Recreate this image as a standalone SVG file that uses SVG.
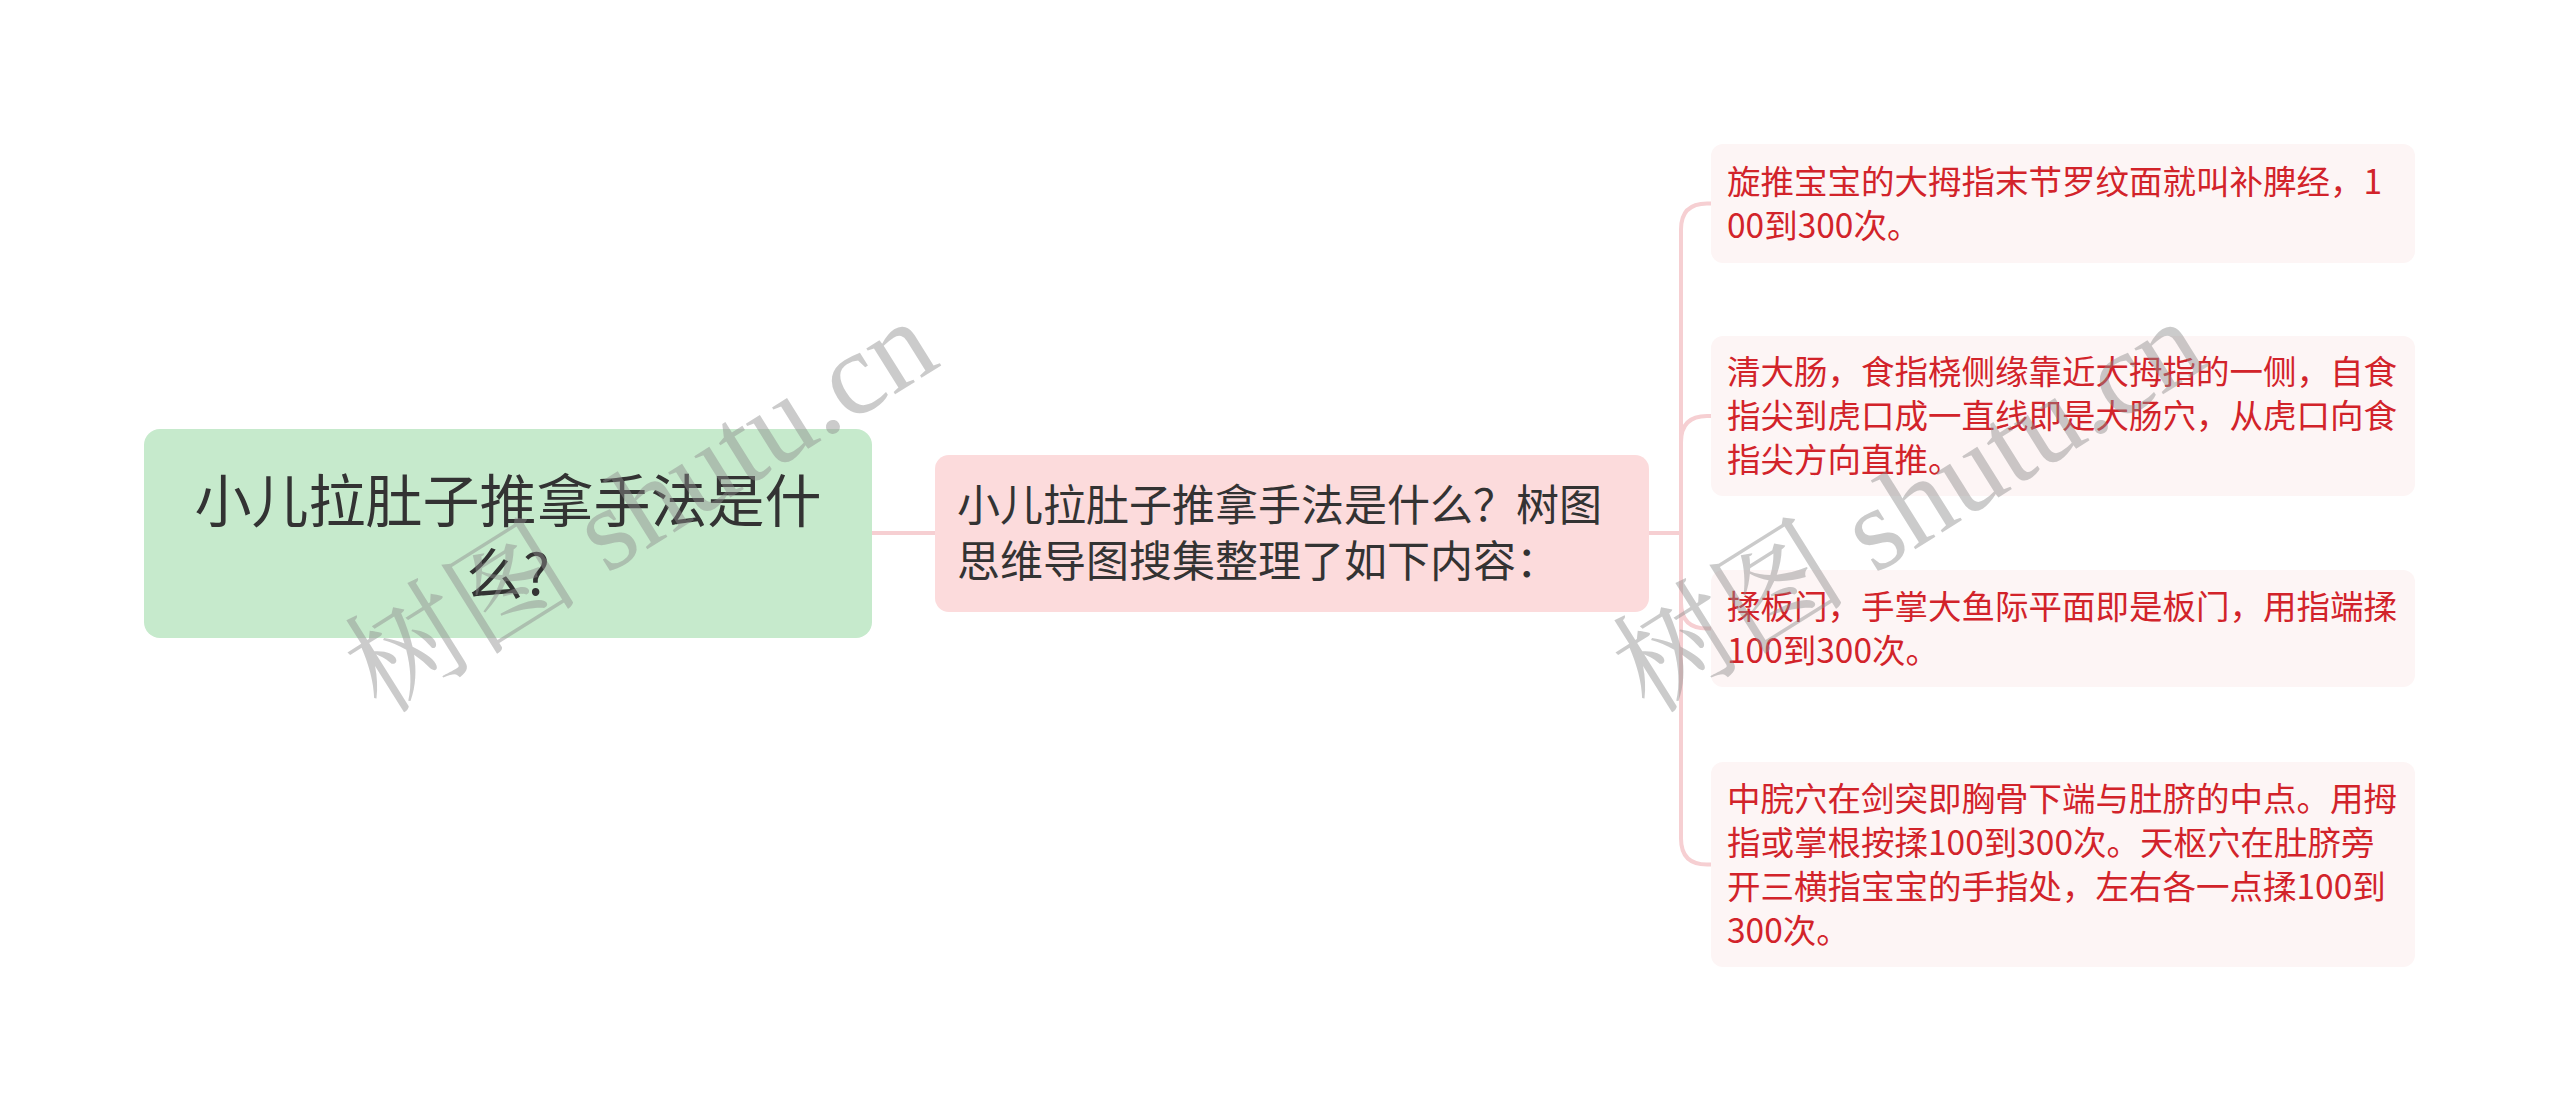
<svg xmlns="http://www.w3.org/2000/svg" width="2560" height="1112" viewBox="0 0 2560 1112">
<style>
.cjk{font-family:"Noto Sans CJK SC","Noto Sans",sans-serif}
.root-box{fill:#c6eacc}
.root-text{fill:#333333;font-size:57px}
.mid-box{fill:#fcdbdc}
.mid-text{fill:#333333;font-size:43px}
.leaf-box{fill:#fdf5f5}
.leaf-text{fill:#d2232a;font-size:33.5px}
.conn{fill:none;stroke:#f6cfd2;stroke-width:4;stroke-linecap:round}
.wm{font-family:"Liberation Serif","Noto Serif CJK SC","Noto Sans CJK SC",serif;font-size:118px;fill:#8c8c8c;fill-opacity:0.45}
</style>
<rect width="2560" height="1112" fill="#ffffff"/>
<g id="connectors">
<path class="conn" d="M872,533 H935"/>
<path class="conn" d="M1649,533 H1681"/>
<path class="conn" d="M1681,533 V229.5 Q1681,203.5 1707,203.5 H1711"/>
<path class="conn" d="M1681,533 V442 Q1681,416 1707,416 H1711"/>
<path class="conn" d="M1681,533 V602.5 Q1681,628.5 1707,628.5 H1711"/>
<path class="conn" d="M1681,533 V838.5 Q1681,864.5 1707,864.5 H1711"/>
</g>
<g id="root">
<rect class="root-box" x="144" y="429" width="728" height="209" rx="16"/>
<text class="cjk root-text" x="508" y="522" text-anchor="middle">小儿拉肚子推拿手法是什</text>
<text class="cjk root-text" x="508" y="595" text-anchor="middle">么?</text>
</g>
<g id="topic">
<rect class="mid-box" x="935" y="455" width="714" height="157" rx="14"/>
<text class="cjk mid-text" x="957" y="521">小儿拉肚子推拿手法是什么？树图</text>
<text class="cjk mid-text" x="957" y="577">思维导图搜集整理了如下内容：</text>
</g>
<g id="leaf1">
<rect class="leaf-box" x="1711" y="144" width="704" height="119" rx="12"/>
<text class="cjk leaf-text" x="1727" y="193.5">旋推宝宝的大拇指末节罗纹面就叫补脾经，1</text>
<text class="cjk leaf-text" x="1727" y="237.5">00到300次。</text>
</g>
<g id="leaf2">
<rect class="leaf-box" x="1711" y="336" width="704" height="160" rx="12"/>
<text class="cjk leaf-text" x="1727" y="384">清大肠，食指桡侧缘靠近大拇指的一侧，自食</text>
<text class="cjk leaf-text" x="1727" y="428">指尖到虎口成一直线即是大肠穴，从虎口向食</text>
<text class="cjk leaf-text" x="1727" y="472">指尖方向直推。</text>
</g>
<g id="leaf3">
<rect class="leaf-box" x="1711" y="570" width="704" height="117" rx="12"/>
<text class="cjk leaf-text" x="1727" y="618.5">揉板门，手掌大鱼际平面即是板门，用指端揉</text>
<text class="cjk leaf-text" x="1727" y="662.5">100到300次。</text>
</g>
<g id="leaf4">
<rect class="leaf-box" x="1711" y="762" width="704" height="205" rx="12"/>
<text class="cjk leaf-text" x="1727" y="810.5">中脘穴在剑突即胸骨下端与肚脐的中点。用拇</text>
<text class="cjk leaf-text" x="1727" y="854.5">指或掌根按揉100到300次。天枢穴在肚脐旁</text>
<text class="cjk leaf-text" x="1727" y="898.5">开三横指宝宝的手指处，左右各一点揉100到</text>
<text class="cjk leaf-text" x="1727" y="942.5">300次。</text>
</g>
<g id="watermarks">
<text class="wm" x="0" y="0" text-anchor="middle" transform="translate(662,540) rotate(-32)">树图 shutu.cn</text>
<text class="wm" x="0" y="0" text-anchor="middle" transform="translate(1930,540) rotate(-32)">树图 shutu.cn</text>
</g>
</svg>
